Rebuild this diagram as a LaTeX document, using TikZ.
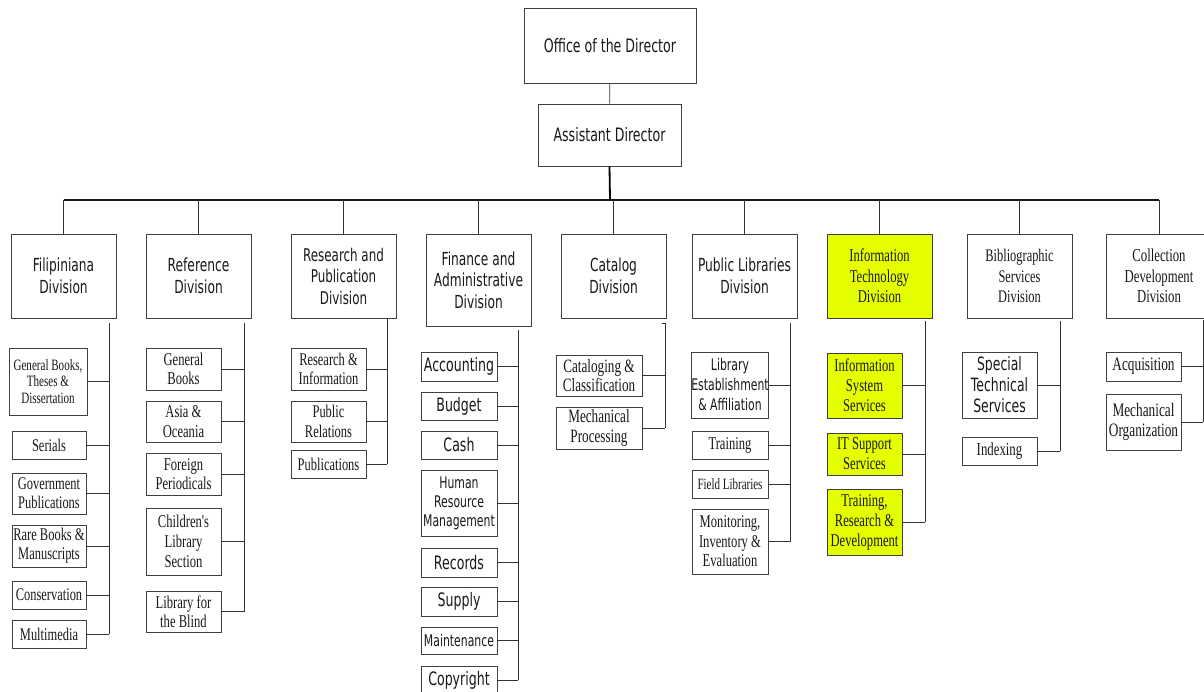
\documentclass[tikz,border=0pt]{standalone}
\usepackage{fontspec}
\newfontfamily\sansf[FakeStretch=0.68]{DejaVu Sans}
\newfontfamily\serf[FakeStretch=0.70]{Liberation Serif}
\definecolor{ityellow}{RGB}{230,255,0}
\definecolor{ink}{RGB}{25,25,25}
\begin{document}
\begin{tikzpicture}[x=1pt,y=-1pt,
  box/.style={draw=black!75, line width=0.8pt, fill=white, inner sep=0pt,
              align=center, text=ink},
  hl/.style={fill=ityellow},
  sf/.style 2 args={font=\sansf\fontsize{#1}{#2}\selectfont},
  rm/.style 2 args={font=\serf\fontsize{#1}{#2}\selectfont},
  wire/.style={draw=black!80, line width=0.8pt},
  trunk/.style={draw=black, line width=1.8pt},
  bus/.style={draw=black!90, line width=1.2pt}]
\useasboundingbox (0,0) rectangle (1204,692);
\clip (0,0) rectangle (1204,692);
\fill[white] (0,0) rectangle (1204,692);

% ---------------- top of the chart
\node[box, sf={18.5}{22}, minimum width=172pt, minimum height=75pt] (office) at (610,45.5) {Office of the Director};
\node[box, sf={18.5}{22}, minimum width=143pt, minimum height=62pt] (asst) at (609.5,135) {Assistant Director};
\coordinate (bus) at (610,200);

% ---------------- divisions
\tikzset{div/.style={box, minimum width=105pt, minimum height=84pt}}
\node[div, sf={18}{21.5}] (fil) at (63.5,276) {Filipiniana\\Division};
\node[div, sf={18}{21.5}] (ref) at (198.5,276) {Reference\\Division};
\node[div, sf={17.5}{21.5}] (rpd) at (343.5,276) {Research and\\Publication\\Division};
\node[div, sf={18}{21.5}, minimum height=92pt] (fin) at (478.5,280) {Finance and\\Administrative\\Division};
\node[div, sf={18}{21.5}] (cat) at (613.5,276) {Catalog\\Division};
\node[div, sf={18}{21.5}] (pld) at (744.5,276) {Public Libraries\\Division};
\node[div, hl, rm={18}{20.5}] (itd) at (879.5,276) {Information\\Technology\\Division};
\node[div, rm={17.7}{20.5}] (bsd) at (1019.5,276) {Bibliographic\\Services\\Division};
\node[div, rm={18.2}{20.5}] (cdd) at (1159,276) {Collection\\Development\\Division};

\draw[wire] (office) -- (asst);
\draw[trunk] (asst.south) -- (bus);
\draw[bus] (fil.north |- bus) -- (cdd.north |- bus);
\foreach \d in {fil,ref,rpd,fin,cat,pld,itd,bsd,cdd}
  \draw[wire] (\d.north |- bus) -- (\d.north);

% ---------------- Filipiniana Division
\node[box, rm={15.8}{16.5}, minimum width=78pt, minimum height=67pt] (fil1) at (48,381.5) {General Books,\\Theses \&\\Dissertation};
\tikzset{fsub/.style={box, rm={17.8}{19}, minimum width=74pt}}
\node[fsub, minimum height=28pt] (fil2) at (49,445) {Serials};
\node[fsub, minimum height=41pt] (fil3) at (49,493.5) {Government\\Publications};
\node[fsub, minimum height=42pt] (fil4) at (49,546) {Rare Books \&\\Manuscripts};
\node[fsub, minimum height=28pt] (fil5) at (49,595) {Conservation};
\node[fsub, minimum height=28pt] (fil6) at (49,634) {Multimedia};
\coordinate (filsp) at (109,323);
\draw[wire] (filsp) -- (filsp |- fil6.east);
\foreach \c in {fil1,fil2,fil3,fil4,fil5,fil6}
  \draw[wire] (\c.east) -- (\c.east -| filsp);

% ---------------- Reference Division
\tikzset{rsub/.style={box, rm={18}{19.5}, minimum width=75pt}}
\node[rsub, minimum height=42pt] (ref1) at (183.5,369) {General\\Books};
\node[rsub, minimum height=41pt] (ref2) at (183.5,421.5) {Asia \&\\Oceania};
\node[rsub, minimum height=42pt] (ref3) at (183.5,474) {Foreign\\Periodicals};
\node[rsub, rm={18}{20}, minimum height=67pt] (ref4) at (183.5,541.5) {Children's\\Library\\Section};
\node[rsub, minimum height=41pt] (ref5) at (183.5,611.5) {Library for\\the Blind};
\coordinate (refsp) at (244,323);
\draw[wire] (refsp) -- (refsp |- ref5.east);
\foreach \c in {ref1,ref2,ref3,ref4,ref5}
  \draw[wire] (\c.east) -- (\c.east -| refsp);

% ---------------- Research and Publication Division
\tikzset{psub/.style={box, rm={17.8}{19.5}, minimum width=75pt}}
\node[psub, minimum height=42pt] (rpd1) at (328.5,369) {Research \&\\Information};
\node[psub, minimum height=41pt] (rpd2) at (328.5,421.5) {Public\\Relations};
\node[psub, minimum height=28pt] (rpd3) at (328.5,464) {Publications};
\coordinate (rpdsp) at (387,318);
\draw[wire] (rpdsp) -- (rpdsp |- rpd3.east);
\foreach \c in {rpd1,rpd2,rpd3}
  \draw[wire] (\c.east) -- (\c.east -| rpdsp);

% ---------------- Finance and Administrative Division
\tikzset{asub/.style={box, sf={18.5}{19}, minimum width=76pt}}
\node[asub, minimum height=29pt] (fin1) at (459,366.5) {Accounting};
\node[asub, minimum height=28pt] (fin2) at (459,406) {Budget};
\node[asub, minimum height=28pt] (fin3) at (459,445) {Cash};
\node[asub, sf={16}{19}, minimum height=66pt] (fin4) at (459,503) {Human\\Resource\\Management};
\node[asub, minimum height=29pt] (fin5) at (459,562.5) {Records};
\node[asub, minimum height=29pt] (fin6) at (459,601.5) {Supply};
\node[asub, sf={16}{19}, minimum height=27pt] (fin7) at (459,640.5) {Maintenance};
\node[asub, minimum height=28pt] (fin8) at (459,680) {Copyright};
\coordinate (finsp) at (518,330);
\draw[wire] (finsp) -- (finsp |- fin8.east);
\foreach \c in {fin1,fin2,fin3,fin4,fin5,fin6,fin7,fin8}
  \draw[wire] (\c.east) -- (\c.east -| finsp);

% ---------------- Catalog Division
\tikzset{csub/.style={box, rm={18.8}{19.5}, minimum width=86pt}}
\node[csub, minimum height=41pt] (cat1) at (599,375.5) {Cataloging \&\\Classification};
\node[csub, minimum height=42pt] (cat2) at (599,428) {Mechanical\\Processing};
\coordinate (catsp) at (665,323);
\draw[wire] ([xshift=-3pt]catsp) -- (catsp) -- (catsp |- cat2.east);
\foreach \c in {cat1,cat2}
  \draw[wire] (\c.east) -- (\c.east -| catsp);

% ---------------- Public Libraries Division
\tikzset{lsub/.style={box, rm={18}{19.5}, minimum width=76pt}}
\node[lsub, sf={16}{20}, minimum height=66pt] (pld1) at (730,385) {Library\\Establishment\\\& Affiliation};
\node[lsub, minimum height=28pt] (pld2) at (730,445) {Training};
\node[lsub, rm={15.7}{17}, minimum height=28pt] (pld3) at (730,484) {Field Libraries};
\node[lsub, minimum height=65pt] (pld4) at (730,541.5) {Monitoring,\\Inventory \&\\Evaluation};
\coordinate (pldsp) at (790,323);
\draw[wire] (pldsp) -- (pldsp |- pld4.east);
\foreach \c in {pld1,pld2,pld3,pld4}
  \draw[wire] (\c.east) -- (\c.east -| pldsp);

% ---------------- Information Technology Division
\tikzset{isub/.style={box, hl, rm={18}{20}, minimum width=75pt}}
\node[isub, minimum height=65pt] (itd1) at (864.5,385.5) {Information\\System\\Services};
\node[isub, minimum height=42pt] (itd2) at (864.5,454) {IT Support\\Services};
\node[isub, minimum height=66pt] (itd3) at (864.5,522) {Training,\\Research \&\\Development};
\coordinate (itdsp) at (925,321);
\draw[wire] (itdsp) -- (itdsp |- itd3.east);
\foreach \c in {itd1,itd2,itd3}
  \draw[wire] (\c.east) -- (\c.east -| itdsp);

% ---------------- Bibliographic Services Division
\node[box, sf={18.3}{21}, minimum width=75pt, minimum height=66pt] (bsd1) at (999.5,385) {Special\\Technical\\Services};
\node[box, rm={18.3}{19.5}, minimum width=75pt, minimum height=28pt] (bsd2) at (999.5,451) {Indexing};
\coordinate (bsdsp) at (1060,321);
\draw[wire] (bsdsp) -- (bsdsp |- bsd2.east);
\foreach \c in {bsd1,bsd2}
  \draw[wire] (\c.east) -- (\c.east -| bsdsp);

% ---------------- Collection Development Division
\tikzset{dsub/.style={box, rm={19}{20}, minimum width=75pt}}
\node[dsub, minimum height=29pt] (cdd1) at (1143.5,366.5) {Acquisition};
\node[dsub, minimum height=56pt] (cdd2) at (1143.5,422) {Mechanical\\Organization};
\coordinate (cddsp) at (1203,320);
\draw[wire] (cddsp) -- (cddsp |- cdd2.east);
\foreach \c in {cdd1,cdd2}
  \draw[wire] (\c.east) -- (\c.east -| cddsp);
\end{tikzpicture}
\end{document}
